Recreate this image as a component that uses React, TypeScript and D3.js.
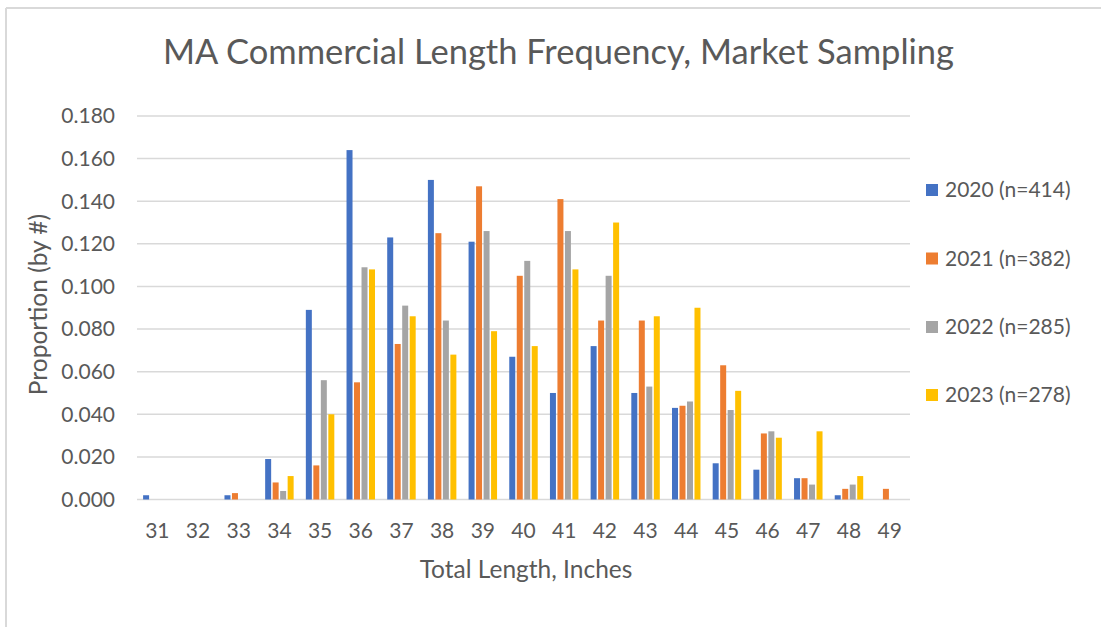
import React from "react";
import * as d3 from "d3";

const categories = ["31","32","33","34","35","36","37","38","39","40","41","42","43","44","45","46","47","48","49"];
const seriesNames = ["2020 (n=414)", "2021 (n=382)", "2022 (n=285)", "2023 (n=278)"];
const s2020 = [0.002,0,0.002,0.019,0.089,0.164,0.123,0.150,0.121,0.067,0.050,0.072,0.050,0.043,0.017,0.014,0.010,0.002,0];
const s2021 = [0,0,0.003,0.008,0.016,0.055,0.073,0.125,0.147,0.105,0.141,0.084,0.084,0.044,0.063,0.031,0.010,0.005,0.005];
const s2022 = [0,0,0,0.004,0.056,0.109,0.091,0.084,0.126,0.112,0.126,0.105,0.053,0.046,0.042,0.032,0.007,0.007,0];
const s2023 = [0,0,0,0.011,0.040,0.108,0.086,0.068,0.079,0.072,0.108,0.130,0.086,0.090,0.051,0.029,0.032,0.011,0];
const seriesValues = [s2020, s2021, s2022, s2023];
const colors = ["#4472C4", "#ED7D31", "#A5A5A5", "#FFC000"];
const yTicks = [0, 0.02, 0.04, 0.06, 0.08, 0.10, 0.12, 0.14, 0.16, 0.18];

const W = 1101, H = 627;
const FONT = "Lato, 'Open Sans', sans-serif";
const TXT = "#595959";

export default function App() {
  const left = 137, right = 910, top = 116, bottom = 499.5;
  const x = d3.scaleBand<string>().domain(categories).range([left, right]).paddingInner(0.3).paddingOuter(0.15);
  const xi = d3.scaleBand<number>().domain([0, 1, 2, 3]).range([0, x.bandwidth()]).paddingInner(0.2);
  const y = d3.scaleLinear().domain([0, 0.18]).range([bottom, top]);
  const legendY = [190, 258.5, 327, 395];

  return (
    <svg width={W} height={H} style={{ position: "absolute", left: 0, top: 0 }} fontFamily={FONT}>
      <rect x={0} y={0} width={W} height={H} fill="#fff" />
      <line x1={6} x2={W} y1={8} y2={8} stroke="#D9D9D9" strokeWidth={2} />
      <line x1={6} x2={6} y1={8} y2={H} stroke="#D9D9D9" strokeWidth={2} />
      <text x={558.5} y={64} textAnchor="middle" fontSize={34.5} fill={TXT}>
        MA Commercial Length Frequency, Market Sampling
      </text>
      {yTicks.map((t) => (
        <g key={t}>
          <line x1={left} x2={right} y1={y(t)} y2={y(t)} stroke="#D9D9D9" strokeWidth={1.5} />
          <text x={115} y={y(t)} dy="0.35em" textAnchor="end" fontSize={21} fill={TXT}>
            {t.toFixed(3)}
          </text>
        </g>
      ))}
      {seriesValues.map((vals, si) =>
        vals.map((v, ci) =>
          v > 0 ? (
            <rect
              key={si + "-" + ci}
              x={(x(categories[ci]) as number) + (xi(si) as number)}
              y={y(v)}
              width={xi.bandwidth()}
              height={bottom - y(v)}
              fill={colors[si]}
            />
          ) : null
        )
      )}
      {categories.map((c) => (
        <text key={c} x={(x(c) as number) + x.bandwidth() / 2} y={531} dy="0.35em" textAnchor="middle" fontSize={21} fill={TXT}>
          {c}
        </text>
      ))}
      <text x={526} y={569} dy="0.35em" textAnchor="middle" fontSize={24.5} fill={TXT}>
        Total Length, Inches
      </text>
      <text transform="translate(38,304.5) rotate(-90)" dy="0.35em" textAnchor="middle" fontSize={24.5} fill={TXT}>
        Proportion (by #)
      </text>
      {seriesNames.map((n, i) => (
        <g key={n}>
          <rect x={926} y={legendY[i] - 6} width={12} height={12} fill={colors[i]} />
          <text x={945} y={legendY[i]} dy="0.35em" fontSize={21} fill={TXT}>
            {n}
          </text>
        </g>
      ))}
    </svg>
  );
}
